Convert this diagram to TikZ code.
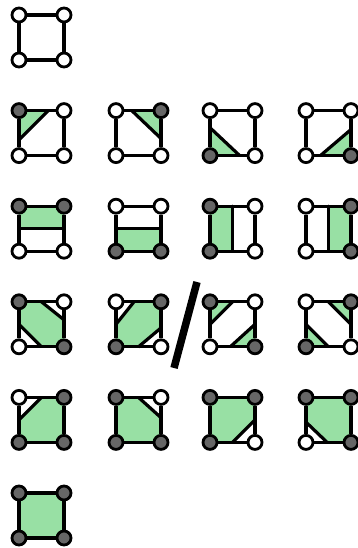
\documentclass[tikz,border=0pt]{standalone}
\usetikzlibrary{calc}
\definecolor{lgreen}{RGB}{152,224,164}
\definecolor{dkgray}{RGB}{102,102,102}
\tikzset{
  corner/.style={circle, draw=black, line width=2.8pt, minimum size=14pt, inner sep=0pt},
  dk/.style={corner, fill=dkgray},
  lt/.style={corner, fill=white},
  edge/.style={draw=black, line width=3.2pt},
  contour/.style={draw=black, line width=3.2pt, line cap=round},
  region/.style={fill=lgreen},
  slash/.style={draw=black, line width=7.5pt}
}
\newcommand\mscoords[3]{%
  \coordinate (#1a) at (#2,#3);
  \coordinate (#1b) at (#2+45,#3);
  \coordinate (#1c) at (#2+45,#3+45);
  \coordinate (#1d) at (#2,#3+45);
}
\newcommand\msframe[5]{%
  \node[#2] (#1A) at (#1a) {};
  \node[#3] (#1B) at (#1b) {};
  \node[#4] (#1C) at (#1c) {};
  \node[#5] (#1D) at (#1d) {};
  \draw[edge] (#1A) -- (#1B);
  \draw[edge] (#1B) -- (#1C);
  \draw[edge] (#1C) -- (#1D);
  \draw[edge] (#1D) -- (#1A);
}
\begin{document}
\begin{tikzpicture}[x=1pt,y=-1pt]
\useasboundingbox (0,0) rectangle (357,548);
% ---------- row 1
\mscoords{A1}{19}{15}
\msframe{A1}{lt}{lt}{lt}{lt}
% ---------- row 2
\mscoords{B1}{19}{110.6}
\fill[region] (B1a) -- ($(B1a)!.65!(B1b)$) -- ($(B1a)!.65!(B1d)$) -- cycle;
\draw[contour] ($(B1a)!.65!(B1b)$) -- ($(B1a)!.65!(B1d)$);
\msframe{B1}{dk}{lt}{lt}{lt}
\mscoords{B2}{116}{110.6}
\fill[region] (B2b) -- ($(B2b)!.65!(B2a)$) -- ($(B2b)!.62!(B2c)$) -- cycle;
\draw[contour] ($(B2b)!.65!(B2a)$) -- ($(B2b)!.62!(B2c)$);
\msframe{B2}{lt}{dk}{lt}{lt}
\mscoords{B3}{210}{110.6}
\fill[region] (B3d) -- ($(B3d)!.62!(B3a)$) -- ($(B3d)!.66!(B3c)$) -- cycle;
\draw[contour] ($(B3d)!.62!(B3a)$) -- ($(B3d)!.66!(B3c)$);
\msframe{B3}{lt}{lt}{lt}{dk}
\mscoords{B4}{306}{110.6}
\fill[region] (B4c) -- ($(B4c)!.58!(B4b)$) -- ($(B4c)!.68!(B4d)$) -- cycle;
\draw[contour] ($(B4c)!.58!(B4b)$) -- ($(B4c)!.68!(B4d)$);
\msframe{B4}{lt}{lt}{dk}{lt}
% ---------- row 3
\mscoords{C1}{19}{206.2}
\fill[region] (C1a) -- (C1b) -- ($(C1b)!.5!(C1c)$) -- ($(C1a)!.5!(C1d)$) -- cycle;
\draw[contour] ($(C1b)!.5!(C1c)$) -- ($(C1a)!.5!(C1d)$);
\msframe{C1}{dk}{dk}{lt}{lt}
\mscoords{C2}{116}{206.2}
\fill[region] (C2d) -- (C2c) -- ($(C2b)!.5!(C2c)$) -- ($(C2a)!.5!(C2d)$) -- cycle;
\draw[contour] ($(C2b)!.5!(C2c)$) -- ($(C2a)!.5!(C2d)$);
\msframe{C2}{lt}{lt}{dk}{dk}
\mscoords{C3}{210}{206.2}
\fill[region] (C3a) -- ($(C3a)!.5!(C3b)$) -- ($(C3d)!.5!(C3c)$) -- (C3d) -- cycle;
\draw[contour] ($(C3a)!.5!(C3b)$) -- ($(C3d)!.5!(C3c)$);
\msframe{C3}{dk}{lt}{lt}{dk}
\mscoords{C4}{306}{206.2}
\fill[region] (C4b) -- ($(C4a)!.5!(C4b)$) -- ($(C4d)!.5!(C4c)$) -- (C4c) -- cycle;
\draw[contour] ($(C4a)!.5!(C4b)$) -- ($(C4d)!.5!(C4c)$);
\msframe{C4}{lt}{dk}{dk}{lt}
% ---------- row 4
\mscoords{D1}{19}{301.8}
\fill[region] (D1a) -- ($(D1a)!.5!(D1b)$) -- ($(D1b)!.4!(D1c)$) -- (D1c) -- ($(D1c)!.5!(D1d)$) -- ($(D1d)!.5!(D1a)$) -- cycle;
\draw[contour] ($(D1a)!.5!(D1b)$) -- ($(D1b)!.4!(D1c)$);
\draw[contour] ($(D1c)!.5!(D1d)$) -- ($(D1d)!.5!(D1a)$);
\msframe{D1}{dk}{lt}{dk}{lt}
\mscoords{D2}{116}{301.8}
\fill[region] (D2b) -- ($(D2b)!.58!(D2c)$) -- ($(D2c)!.5!(D2d)$) -- (D2d) -- ($(D2d)!.5!(D2a)$) -- ($(D2a)!.4!(D2b)$) -- cycle;
\draw[contour] ($(D2b)!.58!(D2c)$) -- ($(D2c)!.5!(D2d)$);
\draw[contour] ($(D2d)!.5!(D2a)$) -- ($(D2a)!.4!(D2b)$);
\msframe{D2}{lt}{dk}{lt}{dk}
\draw[slash] (197,282) -- (174,368);
\mscoords{D3}{210}{301.8}
\fill[region] (D3a) -- ($(D3a)!.5!(D3b)$) -- ($(D3a)!.5!(D3d)$) -- cycle;
\fill[region] (D3c) -- ($(D3c)!.5!(D3b)$) -- ($(D3c)!.55!(D3d)$) -- cycle;
\draw[contour] ($(D3a)!.5!(D3b)$) -- ($(D3a)!.5!(D3d)$);
\draw[contour] ($(D3c)!.5!(D3b)$) -- ($(D3c)!.55!(D3d)$);
\msframe{D3}{dk}{lt}{dk}{lt}
\mscoords{D4}{306}{301.8}
\fill[region] (D4b) -- ($(D4b)!.5!(D4a)$) -- ($(D4b)!.5!(D4c)$) -- cycle;
\fill[region] (D4d) -- ($(D4d)!.5!(D4a)$) -- ($(D4d)!.5!(D4c)$) -- cycle;
\draw[contour] ($(D4b)!.5!(D4a)$) -- ($(D4b)!.5!(D4c)$);
\draw[contour] ($(D4d)!.5!(D4a)$) -- ($(D4d)!.5!(D4c)$);
\msframe{D4}{lt}{dk}{lt}{dk}
% ---------- row 5
\mscoords{E1}{19}{397.4}
\fill[region] ($(E1a)!.5!(E1b)$) -- (E1b) -- (E1c) -- (E1d) -- ($(E1a)!.5!(E1d)$) -- cycle;
\draw[contour] ($(E1a)!.5!(E1b)$) -- ($(E1a)!.5!(E1d)$);
\msframe{E1}{lt}{dk}{dk}{dk}
\mscoords{E2}{116}{397.4}
\fill[region] (E2a) -- ($(E2b)!.5!(E2a)$) -- ($(E2b)!.45!(E2c)$) -- (E2c) -- (E2d) -- cycle;
\draw[contour] ($(E2b)!.5!(E2a)$) -- ($(E2b)!.45!(E2c)$);
\msframe{E2}{dk}{lt}{dk}{dk}
\mscoords{E3}{210}{397.4}
\fill[region] (E3a) -- (E3b) -- ($(E3c)!.5!(E3b)$) -- ($(E3c)!.5!(E3d)$) -- (E3d) -- cycle;
\draw[contour] ($(E3c)!.5!(E3b)$) -- ($(E3c)!.5!(E3d)$);
\msframe{E3}{dk}{dk}{lt}{dk}
\mscoords{E4}{306}{397.4}
\fill[region] (E4a) -- (E4b) -- (E4c) -- ($(E4d)!.47!(E4c)$) -- ($(E4d)!.45!(E4a)$) -- cycle;
\draw[contour] ($(E4d)!.47!(E4c)$) -- ($(E4d)!.45!(E4a)$);
\msframe{E4}{dk}{dk}{dk}{lt}
% ---------- row 6
\mscoords{F1}{19}{493}
\fill[region] (F1a) -- (F1b) -- (F1c) -- (F1d) -- cycle;
\msframe{F1}{dk}{dk}{dk}{dk}
\end{tikzpicture}
\end{document}
